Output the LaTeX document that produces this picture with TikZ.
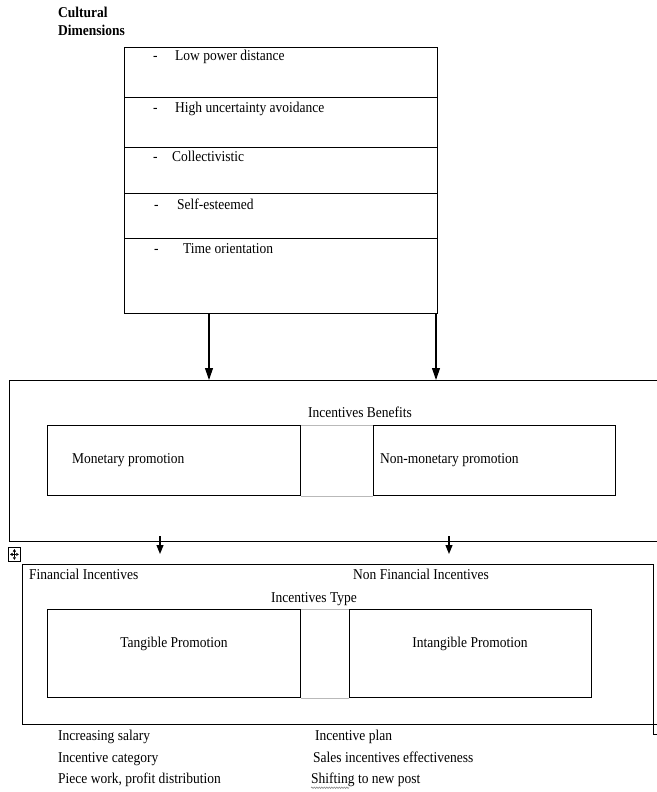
\documentclass[tikz,border=0pt]{standalone}
\usepackage{fontspec}
\setmainfont{Liberation Serif}[FakeStretch=0.9]
\usetikzlibrary{arrows.meta,decorations.pathmorphing}
\begin{document}
\begin{tikzpicture}[x=1pt,y=-1pt,
  box/.style={draw, line width=1.1pt, inner sep=0pt, anchor=north west},
  txt/.style={inner sep=0pt, anchor=west, font=\fontsize{15}{17}\selectfont, text height=10pt, text depth=3pt},
  ctxt/.style={txt, anchor=center},
  btxt/.style={txt, font=\fontsize{15}{17}\selectfont\bfseries},
  bigarrow/.style={line width=1.1pt, -{Triangle[width=8pt,length=12pt]}},
  smallarrow/.style={line width=1.1pt, -{Triangle[width=7pt,length=9pt]}},
  joinline/.style={draw=gray!55, line width=1pt},
  handle/.style={draw, line width=0.8pt, inner sep=0pt, anchor=north west}]
\useasboundingbox[fill=white] (0,0) rectangle (656,792);

% title
\node[btxt] (t1) at (58,14) {Cultural};
\node[btxt] (t2) at (58,32) {Dimensions};

% cultural dimensions box
\node[box, minimum width=313pt, minimum height=50pt] (r1) at (124,47) {};
\node[box, minimum width=313pt, minimum height=50pt] (r2) at (124,97) {};
\node[box, minimum width=313pt, minimum height=46pt] (r3) at (124,147) {};
\node[box, minimum width=313pt, minimum height=45pt] (r4) at (124,193) {};
\node[box, minimum width=313pt, minimum height=75pt] (r5) at (124,238) {};

\node[txt] (d1) at (153,57) {-};
\node[txt] (l1) at (175,57) {Low power distance};
\node[txt] (d2) at (153,109) {-};
\node[txt] (l2) at (175,109) {High uncertainty avoidance};
\node[txt] (d3) at (153,158) {-};
\node[txt] (l3) at (172,158) {Collectivistic};
\node[txt] (d4) at (154,206) {-};
\node[txt] (l4) at (177,206) {Self-esteemed};
\node[txt] (d5) at (154,250) {-};
\node[txt] (l5) at (183,250) {Time orientation};

% incentives benefits box
\node[box, minimum width=661pt, minimum height=161pt] (bene) at (9,380) {};
\node[ctxt] (benet) at (360,414) {Incentives Benefits};
\node[box, minimum width=253pt, minimum height=70pt] (mon) at (47,425) {};
\node[box, minimum width=242pt, minimum height=70pt] (nonmon) at (373,425) {};
\draw[joinline] (mon.north east) -- (nonmon.north west);
\draw[joinline] (mon.south east) -- (nonmon.south west);
\node[txt] (mont) at (72,460) {Monetary promotion};
\node[txt] (nonmont) at (380,460) {Non-monetary promotion};

% arrows from dimensions to benefits
\coordinate (ax1) at (209,0);
\coordinate (ax2) at (436,0);
\draw[bigarrow] (r5.south -| ax1) -- (bene.north -| ax1);
\draw[bigarrow] (r5.south -| ax2) -- (bene.north -| ax2);

% move handle
\node[handle, minimum width=12pt, minimum height=14pt] (mh) at (8,547) {};
\draw[line width=0.5pt, {Triangle[width=3pt,length=2.5pt]}-{Triangle[width=3pt,length=2.5pt]}] ([xshift=2pt]mh.west) -- ([xshift=-2pt]mh.east);
\draw[line width=0.5pt, {Triangle[width=3pt,length=2.5pt]}-{Triangle[width=3pt,length=2.5pt]}] ([yshift=-2pt]mh.north) -- ([yshift=2pt]mh.south);

% incentives type box
\node[box, minimum width=631pt, minimum height=160pt] (ftype) at (22,564) {};
\node[txt] (fin) at (29,576) {Financial Incentives};
\node[txt] (nfin) at (353,576) {Non Financial Incentives};
\node[ctxt] (typet) at (314,599) {Incentives Type};
\node[box, minimum width=253pt, minimum height=88pt] (tang) at (47,609) {};
\node[box, minimum width=242pt, minimum height=88pt] (intang) at (349,609) {};
\draw[joinline] (tang.north east) -- (intang.north west);
\draw[joinline] (tang.south east) -- (intang.south west);
\node[ctxt] (tangt) at (174,644) {Tangible Promotion};
\node[ctxt] (intangt) at (470,644) {Intangible Promotion};

% arrows from benefits to type
\coordinate (bx1) at (160,536);
\coordinate (bx2) at (449,536);
\coordinate (bt1) at (160,554);
\coordinate (bt2) at (449,554);
\draw[smallarrow] (bx1) -- (bt1);
\draw[smallarrow] (bx2) -- (bt2);

% resize handle
\node[handle, minimum width=10pt, minimum height=10pt] (rh) at (653,724) {};

% lists
\node[txt] (i1) at (58,737) {Increasing salary};
\node[txt] (i2) at (58,759) {Incentive category};
\node[txt] (i3) at (58,780) {Piece work, profit distribution};
\node[txt] (j1) at (315,737) {Incentive plan};
\node[txt] (j2) at (313,759) {Sales incentives effectiveness};
\node[txt] (j3) at (311,780) {Shifting to new post};
\draw[gray, line width=0.5pt, decorate, decoration={snake, amplitude=0.8pt, segment length=2.5pt}] ([yshift=-1pt]j3.south west) -- ++(38,0);
\end{tikzpicture}
\end{document}
